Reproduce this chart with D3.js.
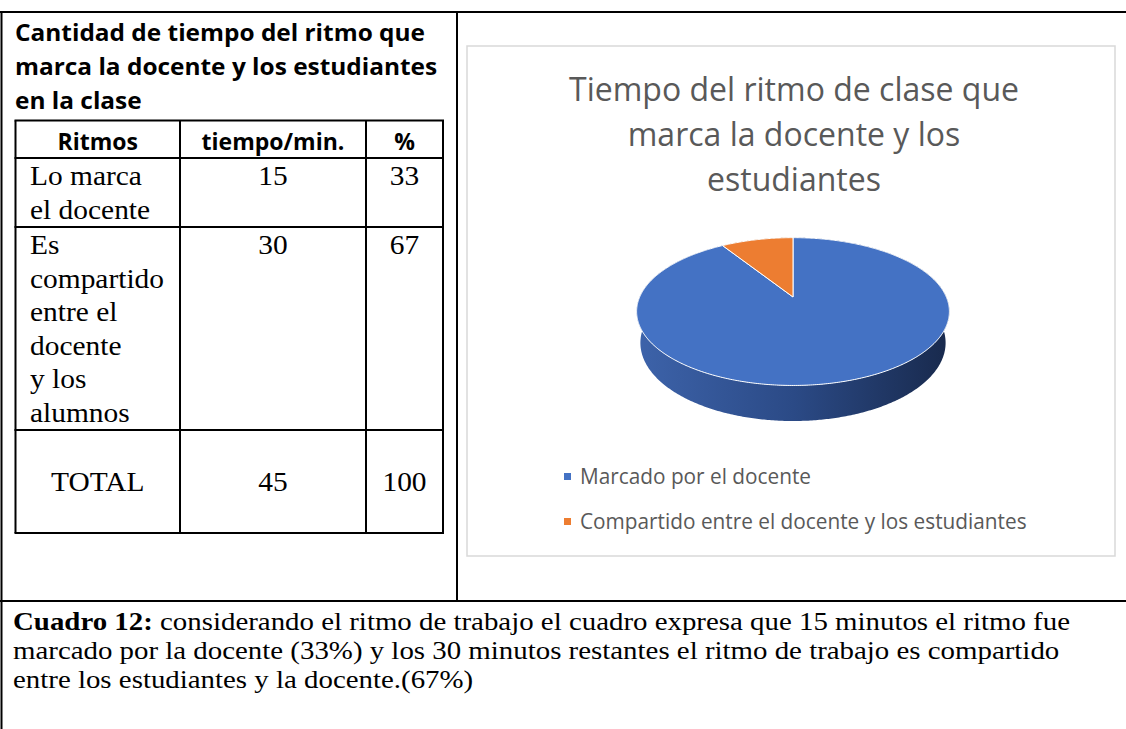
<!DOCTYPE html>
<html>
<head>
<meta charset="utf-8">
<script src="https://cdn.jsdelivr.net/npm/d3@7"></script>
<style>
  body { margin: 0; background: #fff; }
  svg { display: block; }
</style>
</head>
<body>
<script>
var width = 1126;
var height = 729;

// ---- data ----
var tableTitle = ["Cantidad de tiempo del ritmo que", "marca la docente y los estudiantes", "en la clase"];
var tableHeader = ["Ritmos", "tiempo/min.", "%"];
var ritmos = [["Lo marca", "el docente"], ["Es", "compartido", "entre el", "docente", "y los", "alumnos"]];
var minutos = [15, 30];
var porcentajes = [33, 67];
var totalRow = ["TOTAL", 45, 100];

var chartTitle = ["Tiempo del ritmo de clase que", "marca la docente y los", "estudiantes"];
var pieLabels = ["Marcado por el docente", "Compartido entre el docente y los estudiantes"];
var pieValues = [91, 9];   // shares as drawn in the pie
var pieColors = ["#4472C4", "#ED7D31"];

var captionBold = "Cuadro 12:";
var captionLines = [
  " considerando el ritmo de trabajo el cuadro expresa que 15  minutos el ritmo fue",
  "marcado por la docente (33%) y los 30 minutos restantes el ritmo de trabajo es compartido",
  "entre los estudiantes  y la docente.(67%)"
];

var sans = "'Open Sans', 'Noto Sans', sans-serif";
var serif = "'Liberation Serif', serif";

var svg = d3.select("body").append("svg")
  .attr("width", width)
  .attr("height", height);

svg.append("rect").attr("width", width).attr("height", height).attr("fill", "#fff");

// stretch text horizontally so one reference line has the wanted width
function stretchTo(sel, refNode, target) {
  var k = target / refNode.getComputedTextLength();
  sel.each(function () {
    var w = this.getComputedTextLength();
    d3.select(this).attr("textLength", w * k).attr("lengthAdjust", "spacingAndGlyphs");
  });
}

// ---- outer layout frame ----
var frame = svg.append("g").attr("stroke", "#000").attr("stroke-width", 2);
frame.append("line").attr("x1", 0).attr("x2", width).attr("y1", 12).attr("y2", 12);
frame.append("line").attr("x1", 1.5).attr("x2", 1.5).attr("y1", 11).attr("y2", height);
frame.append("line").attr("x1", 457).attr("x2", 457).attr("y1", 11).attr("y2", 601);
frame.append("line").attr("x1", 0).attr("x2", width).attr("y1", 601).attr("y2", 601);

// ---- left cell: title + table ----
var titleSel = svg.append("g").selectAll("text")
  .data(tableTitle)
  .enter().append("text")
    .attr("x", 15)
    .attr("y", (d, i) => 41 + i * 34)
    .attr("font-family", sans)
    .attr("font-weight", "bold")
    .attr("font-size", 23)
    .attr("fill", "#000")
    .text(d => d);

var colX = d3.scaleOrdinal().domain([0, 1, 2, 3]).range([15.5, 180, 366, 443]);
var rowY = [120.5, 158, 227, 430, 533];

var grid = svg.append("g").attr("stroke", "#000").attr("stroke-width", 2);
grid.selectAll("line.h").data(rowY).enter().append("line")
  .attr("x1", colX(0) - 1).attr("x2", colX(3) + 1)
  .attr("y1", d => d).attr("y2", d => d);
grid.selectAll("line.v").data([0, 1, 2, 3]).enter().append("line")
  .attr("x1", d => colX(d)).attr("x2", d => colX(d))
  .attr("y1", rowY[0]).attr("y2", rowY[4]);

function colMid(i) { return (colX(i) + colX(i + 1)) / 2; }

var headSel = svg.append("g").selectAll("text")
  .data(tableHeader)
  .enter().append("text")
    .attr("x", (d, i) => colMid(i))
    .attr("y", 150)
    .attr("text-anchor", "middle")
    .attr("font-family", sans)
    .attr("font-weight", "bold")
    .attr("font-size", 23)
    .text(d => d);

stretchTo(titleSel.merge(headSel), titleSel.node(), 410);

// body cells
var body = svg.append("g").attr("font-family", serif).attr("font-size", 26.5).attr("fill", "#000");
var rowBase = [185, 254];
var lineStep = 33.6;
ritmos.forEach(function (lines, r) {
  body.selectAll(null).data(lines).enter().append("text")
    .attr("class", "cell")
    .attr("x", 30)
    .attr("y", (d, i) => rowBase[r] + i * lineStep)
    .text(d => d);
  body.append("text").attr("class", "cell")
    .attr("x", colMid(1)).attr("y", rowBase[r]).attr("text-anchor", "middle")
    .text(minutos[r]);
  body.append("text").attr("class", "cell")
    .attr("x", colMid(2)).attr("y", rowBase[r]).attr("text-anchor", "middle")
    .text(porcentajes[r]);
});
body.selectAll(null).data(totalRow).enter().append("text")
  .attr("class", "cell")
  .attr("x", (d, i) => colMid(i))
  .attr("y", 491)
  .attr("text-anchor", "middle")
  .text(d => d);

var cells = body.selectAll("text.cell");
stretchTo(cells, cells.filter(d => d === "compartido").node(), 134);

// ---- right cell: chart ----
svg.append("rect")
  .attr("x", 467).attr("y", 46).attr("width", 648).attr("height", 510)
  .attr("fill", "#fff").attr("stroke", "#d9d9d9").attr("stroke-width", 1.5);

var ctSel = svg.append("g").selectAll("text")
  .data(chartTitle)
  .enter().append("text")
    .attr("x", 794)
    .attr("y", (d, i) => 101 + i * 45)
    .attr("text-anchor", "middle")
    .attr("font-family", sans)
    .attr("font-size", 32)
    .attr("fill", "#595959")
    .text(d => d);
stretchTo(ctSel, ctSel.node(), 450);

// 3D pie: disk projected with a little perspective
var pcx = 793, pcy = 297, F = 690, D = 4.5;
var tilt = 27.6 * Math.PI / 180, sT = Math.sin(tilt), cT = Math.cos(tilt);
var thick = 0.232;

// point at angle a (clockwise from 12 o'clock), h = depth below top face, r = radius share
function proj(a, h, r) {
  if (r === undefined) r = 1;
  var X = r * Math.sin(a), Z = -r * Math.cos(a);
  var depth = D - Z * cT + h * sT;
  return [pcx + F * X / depth, pcy + F * (Z * sT + h * cT) / depth];
}
function rim(a0, a1, h) {
  var n = Math.max(2, Math.ceil((a1 - a0) / 0.01));
  return d3.range(n + 1).map(i => proj(a0 + (a1 - a0) * i / n, h));
}

var arcs = d3.pie().sort(null)(pieValues);
var line = d3.line();

var defs = svg.append("defs");
[["sideBlue", "#3d63aa", "#2b4a86", "#18294c"], ["sideOrange", "#c9651f", "#a85518", "#7a3c10"]]
  .forEach(function (g) {
    var lg = defs.append("linearGradient").attr("id", g[0])
      .attr("gradientUnits", "userSpaceOnUse")
      .attr("x1", 636).attr("x2", 951).attr("y1", 0).attr("y2", 0);
    lg.append("stop").attr("offset", "0%").attr("stop-color", g[1]);
    lg.append("stop").attr("offset", "50%").attr("stop-color", g[2]);
    lg.append("stop").attr("offset", "100%").attr("stop-color", g[3]);
  });

var pie = svg.append("g");
// sides first, top face covers the back part
pie.selectAll("path.side").data(arcs).enter().append("path")
  .attr("class", "side")
  .attr("d", d => line(rim(d.startAngle, d.endAngle, 0).concat(rim(d.startAngle, d.endAngle, thick).reverse())) + "Z")
  .attr("fill", (d, i) => i === 0 ? "url(#sideBlue)" : "url(#sideOrange)");

pie.selectAll("path.top").data(arcs).enter().append("path")
  .attr("class", "top")
  .attr("d", d => line([proj(0, 0, 0)].concat(rim(d.startAngle, d.endAngle, 0))) + "Z")
  .attr("fill", (d, i) => pieColors[i])
  .attr("stroke", "#ffffff")
  .attr("stroke-width", 1)
  .attr("stroke-linejoin", "round");

// legend
var legend = svg.append("g").selectAll("g")
  .data(pieLabels)
  .enter().append("g")
    .attr("transform", (d, i) => "translate(564," + (473 + i * 45) + ")");
legend.append("rect")
  .attr("width", 7).attr("height", 7)
  .attr("fill", (d, i) => pieColors[i]);
var legText = legend.append("text")
  .attr("x", 16).attr("y", 11)
  .attr("font-family", sans)
  .attr("font-size", 21)
  .attr("fill", "#595959")
  .text(d => d);
stretchTo(legText, legText.node(), 231);

// ---- caption ----
var cap = svg.append("g").attr("font-family", serif).attr("font-size", 25.5).attr("fill", "#000")
  .style("white-space", "pre");
var capSel = cap.selectAll("text")
  .data(captionLines)
  .enter().append("text")
    .attr("x", 13)
    .attr("y", (d, i) => 630 + i * 29);
capSel.filter((d, i) => i === 0).append("tspan").attr("font-weight", "bold").text(captionBold);
capSel.append("tspan").text(d => d);
stretchTo(capSel, capSel.node(), 1057);
</script>
</body>
</html>
